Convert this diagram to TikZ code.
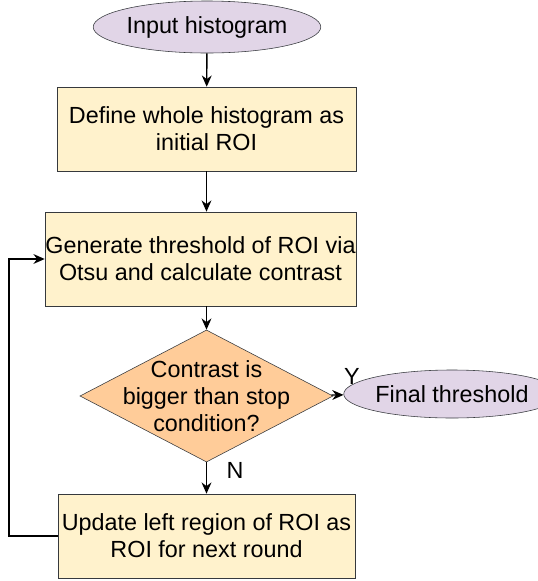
\documentclass[tikz,border=0pt]{standalone}
\usepackage{fontspec}
\setmainfont{Liberation Sans}
\usetikzlibrary{shapes.geometric,arrows.meta}

\definecolor{procfill}{HTML}{FFF2CC}
\definecolor{decfill}{HTML}{FFCC99}
\definecolor{termfill}{HTML}{E1D5E7}
\definecolor{linegray}{HTML}{36393D}

\tikzset{
  proc/.style={rectangle, draw=linegray, fill=procfill, align=center, inner sep=0pt},
  decision/.style={diamond, draw=linegray, fill=decfill, align=center, aspect=1.9, inner xsep=-1cm, inner ysep=-0.6cm},
  terminal/.style={ellipse, draw=linegray, fill=termfill, inner sep=0pt},
  flow/.style={-{Stealth[length=8pt,width=7pt]}, line width=1pt}
}

\begin{document}
\begin{tikzpicture}[x=0.025cm, y=-0.025cm, font=\fontsize{16.6}{19.2}\selectfont]
        \useasboundingbox (0,0) rectangle (538,581);

        % Start: input histogram
        \node[terminal, minimum width=4.6cm, minimum height=1.3cm] (input) at (207,27) {Input histogram};

        % Initial ROI
        \node[proc, minimum width=7.475cm, minimum height=2.1cm] (define) at (206.5,129) {Define whole histogram as\\initial ROI};

        % Otsu threshold of the ROI
        \node[proc, minimum width=7.775cm, minimum height=2.35cm] (generate) at (200.5,259) {Generate threshold of ROI via\\Otsu and calculate contrast};

        % Stop test
        \node[decision, minimum width=6.325cm, minimum height=3.3cm] (decide) at (206.5,396) {Contrast is\\bigger than stop\\condition?};

        % Result
        \node[terminal, minimum width=4.25cm, minimum height=1.2cm] (final) at (452,394) {Final threshold};

        % Next round
        \node[proc, minimum width=7.425cm, minimum height=2.1cm] (update) at (206.5,536) {Update left region of ROI as\\ROI for next round};

        % Connectors
        \draw[flow] (input) -- (define);
        \draw[flow] (define.south) -- (define.south |- generate.north);
        \draw[flow] (generate.south -| decide) -- (decide);
        \draw[flow] (decide) -- (final);
        \draw[flow] (decide) -- (update);
        \node (yes) at (352,376) {Y};
        \node (no) at (235,470) {N};

        % Loop back to the threshold step
        \coordinate (bend) at (9,536);
        \draw[flow] (update.west) -- (bend) |- (generate.west);
\end{tikzpicture}
\end{document}
